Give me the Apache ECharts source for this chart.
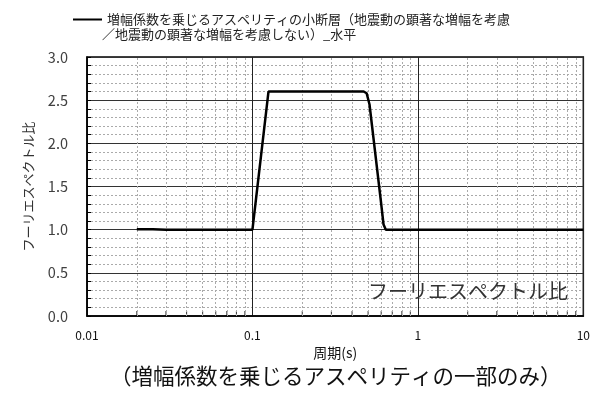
<!DOCTYPE html>
<html>
<head>
<meta charset="utf-8">
<script src="https://cdn.jsdelivr.net/npm/echarts@6/dist/echarts.min.js"></script>
<style>
  html, body { margin: 0; padding: 0; background: #fff; }
  #chart { width: 593px; height: 397px; }
</style>
</head>
<body>
<div id="chart"></div>
<script>
// 周期(s) と フーリエスペクトル比
var seriesName = "増幅係数を乗じるアスペリティの小断層（地震動の顕著な増幅を考慮／地震動の顕著な増幅を考慮しない）_水平";
var legendLine1 = "増幅係数を乗じるアスペリティの小断層（地震動の顕著な増幅を考慮";
var legendLine2 = "／地震動の顕著な増幅を考慮しない）_水平";
var periods = [0.02, 0.025, 0.03, 0.05, 0.1, 0.125, 0.3, 0.47, 0.49, 0.51, 0.6, 0.62, 0.64, 1, 10];
var ratios  = [1.005, 1.005, 1.00, 1.00, 1.00, 2.60, 2.60, 2.60, 2.58, 2.45, 1.30, 1.06, 1.00, 1.00, 1.00];
var xTicks = [0.01, 0.1, 1, 10];
var yTicks = [0, 0.5, 1.0, 1.5, 2.0, 2.5, 3.0];
// 対数軸の補助目盛 (2〜9)
var xMinor = [];
for (var d = 0.01; d < 10; d *= 10) {
  for (var k = 2; k <= 9; k++) xMinor.push(+(d * k).toPrecision(3));
}

var font = "'Noto Sans CJK JP', 'Noto Sans', sans-serif";
var chart = echarts.init(document.getElementById("chart"));

var option = {
  animation: false,
  textStyle: { fontFamily: font },
  grid: { left: 87, right: 8, top: 57, bottom: 81, show: true, borderColor: "#000", borderWidth: 1.5, containLabel: false },
  legend: {
    left: 68, top: 8, itemWidth: 29, itemHeight: 2, itemGap: 5,
    icon: "rect",
    data: [seriesName],
    formatter: function () { return legendLine1; },
    textStyle: { fontSize: 13, color: "#222", fontFamily: font }
  },
  graphic: [
    { type: "text", left: 102, top: 28, style: { text: legendLine2, fontSize: 13, fill: "#222", fontFamily: font } },
    { type: "text", left: 368, top: 281, z: 10, style: { text: "フーリエスペクトル比", fontSize: 20, fill: "#333", fontFamily: font } },
    { type: "text", left: 110, top: 365, style: { text: "（増幅係数を乗じるアスペリティの一部のみ）", fontSize: 21.5, fill: "#111", fontFamily: font } }
  ],
  xAxis: {
    type: "log", logBase: 10, min: 0.01, max: 10,
    name: "周期(s)", nameLocation: "middle", nameGap: 30,
    nameTextStyle: { fontSize: 14, color: "#111", fontFamily: font },
    axisLine: { lineStyle: { color: "#000", width: 1.5 } },
    axisTick: { show: false },
    axisLabel: {
      fontSize: 12, color: "#111", margin: 13, fontFamily: font,
      formatter: function (v) { return xTicks.indexOf(+v.toPrecision(3)) >= 0 ? String(+v.toPrecision(3)) : ""; }
    },
    splitLine: { show: true, lineStyle: { color: "#222", width: 1 } }
  },
  yAxis: {
    type: "value", min: 0, max: 3, interval: 0.5,
    name: "フーリエスペクトル比", nameLocation: "middle", nameRotate: 90, nameGap: 52,
    nameTextStyle: { fontSize: 13, color: "#333", fontFamily: font },
    axisLine: { show: true, lineStyle: { color: "#000", width: 1.5 } },
    axisTick: { show: true, inside: true, length: 4, lineStyle: { color: "#000" } },
    minorTick: { show: true, splitNumber: 5, length: 4, lineStyle: { color: "#000" } },
    axisLabel: {
      fontSize: 14.5, color: "#404040", margin: 19, fontFamily: font,
      formatter: function (v) { return v.toFixed(1); }
    },
    splitLine: { show: true, lineStyle: { color: "#333", width: 1.2 } },
    minorSplitLine: { show: true, lineStyle: { color: "#aaa", type: [2, 2], width: 1 } }
  },
  series: [
    {
      name: seriesName,
      type: "line",
      data: periods.map(function (p, i) { return [p, ratios[i]]; }),
      symbol: "none",
      z: 5,
      lineStyle: { color: "#000", width: 2.5 },
      itemStyle: { color: "#000" },
      markLine: {
        silent: true, symbol: "none", animation: false,
        label: { show: false },
        lineStyle: { color: "#aaa", type: [2, 2], width: 1 },
        data: xMinor.map(function (v) { return { xAxis: v }; })
      }
    },
    {
      name: "minorTicks",
      type: "scatter",
      silent: true,
      data: xMinor.map(function (v) { return [v, 0]; }),
      symbol: "rect",
      symbolSize: [1, 5],
      symbolOffset: [0, -2.5],
      itemStyle: { color: "#000" },
      z: 4
    }
  ]
};
chart.setOption(option);
</script>
</body>
</html>
